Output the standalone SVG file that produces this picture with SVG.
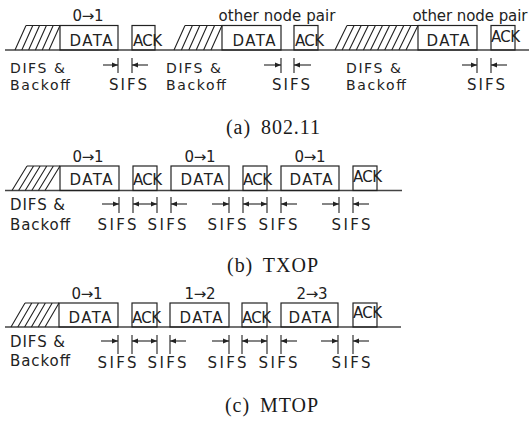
<svg xmlns="http://www.w3.org/2000/svg" width="529" height="422" viewBox="0 0 529 422">
  <style>
    .frame { fill: none; stroke: #222; stroke-width: 1.2; }
    .axis { fill: none; stroke: #444; stroke-width: 1.3; }
    .hatch { fill: none; stroke: #222; stroke-width: 1.1; }
    .tick { fill: none; stroke: #222; stroke-width: 1.1; }
    .arr { fill: none; stroke: #222; stroke-width: 1.1; marker-end: url(#ah); }
    .arr2 { fill: none; stroke: #222; stroke-width: 1.1; marker-start: url(#ah); marker-end: url(#ah); }
    .lbl { font-family: "DejaVu Sans", "Open Sans", sans-serif; font-size: 15px; fill: #222; }
    .sm { font-size: 14px; }
    .mid { text-anchor: middle; }
    .cap { font-family: "Liberation Serif", "DejaVu Serif", serif; font-size: 20px; fill: #1a1a1a; }
  </style>
  <defs>
    <marker id="ah" viewBox="0 0 6 6" refX="6" refY="3" markerWidth="6" markerHeight="6" orient="auto-start-reverse" markerUnits="userSpaceOnUse">
      <path d="M0,0.6 L6,3 L0,5.4 Z" fill="#222"/>
    </marker>
  </defs>

  <!-- ===== (a) 802.11 ===== -->
  <g id="row-a">
    <path class="axis" d="M5,50 H529"/>
    <g id="a-backoff1">
      <path class="hatch" d="M26,25.5 H60 M15,50 L26,25.5 M21.8,50 L32.8,25.5 M28.6,50 L39.6,25.5 M35.4,50 L46.4,25.5 M42.2,50 L53.2,25.5 M49,50 L60,25.5"/>
      <text class="lbl sm" x="10" y="73" textLength="55">DIFS &amp;</text>
      <text class="lbl sm" x="10" y="90" textLength="60">Backoff</text>
    </g>
    <g id="a-data1">
      <rect class="frame" x="60" y="25.5" width="58" height="24.5"/>
      <text class="lbl mid" x="88" y="21" textLength="31">0→1</text>
      <text class="lbl mid" x="91" y="46" textLength="43">DATA</text>
    </g>
    <g id="a-ack1">
      <rect class="frame" x="132" y="25.5" width="23" height="24.5"/>
      <text class="lbl" x="133" y="46" textLength="29">ACK</text>
    </g>
    <g id="a-backoff2">
      <path class="hatch" d="M185,25.5 H222 M174,50 L185,25.5 M181.4,50 L192.4,25.5 M188.8,50 L199.8,25.5 M196.2,50 L207.2,25.5 M203.6,50 L214.6,25.5 M211,50 L222,25.5"/>
      <text class="lbl sm" x="166" y="73" textLength="55">DIFS &amp;</text>
      <text class="lbl sm" x="166" y="90" textLength="60">Backoff</text>
    </g>
    <g id="a-data2">
      <rect class="frame" x="222" y="25.5" width="59" height="24.5"/>
      <text class="lbl mid" x="277" y="21" textLength="117">other node pair</text>
      <text class="lbl mid" x="254" y="46" textLength="43">DATA</text>
    </g>
    <g id="a-ack2">
      <rect class="frame" x="294" y="25.5" width="24" height="24.5"/>
      <text class="lbl" x="295" y="46" textLength="29">ACK</text>
    </g>
    <g id="a-backoff3">
      <path class="hatch" d="M347,25.5 H418 M335,50 L347,25.5 M342.1,50 L354.1,25.5 M349.2,50 L361.2,25.5 M356.3,50 L368.3,25.5 M363.4,50 L375.4,25.5 M370.5,50 L382.5,25.5 M377.6,50 L389.6,25.5 M384.7,50 L396.7,25.5 M391.8,50 L403.8,25.5 M398.9,50 L410.9,25.5 M406,50 L418,25.5"/>
      <text class="lbl sm" x="346" y="73" textLength="55">DIFS &amp;</text>
      <text class="lbl sm" x="346" y="90" textLength="60">Backoff</text>
    </g>
    <g id="a-data3">
      <rect class="frame" x="418" y="25.5" width="59" height="24.5"/>
      <text class="lbl mid" x="470" y="21" textLength="115">other node pair</text>
      <text class="lbl mid" x="448" y="46" textLength="43">DATA</text>
    </g>
    <g id="a-ack3">
      <rect class="frame" x="491" y="25.5" width="24" height="24.5"/>
      <text class="lbl" x="491" y="42" textLength="29">ACK</text>
    </g>
  </g>

  <!-- ===== (b) TXOP ===== -->
  <g id="row-b">
    <path class="axis" d="M5,190.5 H402"/>
    <g id="b-backoff">
      <path class="hatch" d="M27,166 H60 M12,190.5 L27,166 M18.6,190.5 L33.6,166 M25.2,190.5 L40.2,166 M31.8,190.5 L46.8,166 M38.4,190.5 L53.4,166 M45,190.5 L60,166"/>
      <text class="lbl" x="10" y="210" textLength="55">DIFS &amp;</text>
      <text class="lbl" x="10" y="230" textLength="60">Backoff</text>
    </g>
    <g id="b-data1">
      <rect class="frame" x="60" y="166" width="59" height="24.5"/>
      <text class="lbl mid" x="88" y="162" textLength="31">0→1</text>
      <text class="lbl mid" x="91" y="185" textLength="43">DATA</text>
    </g>
    <g id="b-ack1">
      <rect class="frame" x="133" y="166" width="24" height="24.5"/>
      <text class="lbl" x="133" y="185" textLength="29">ACK</text>
    </g>
    <g id="b-data2">
      <rect class="frame" x="171" y="166" width="58" height="24.5"/>
      <text class="lbl mid" x="200" y="162" textLength="31">0→1</text>
      <text class="lbl mid" x="202" y="185" textLength="43">DATA</text>
    </g>
    <g id="b-ack2">
      <rect class="frame" x="243" y="166" width="24" height="24.5"/>
      <text class="lbl" x="243" y="185" textLength="29">ACK</text>
    </g>
    <g id="b-data3">
      <rect class="frame" x="281" y="166" width="58" height="24.5"/>
      <text class="lbl mid" x="310" y="162" textLength="31">0→1</text>
      <text class="lbl mid" x="311" y="185" textLength="43">DATA</text>
    </g>
    <g id="b-ack3">
      <rect class="frame" x="353" y="166" width="24" height="24.5"/>
      <text class="lbl" x="353" y="182" textLength="29">ACK</text>
    </g>
    <text class="lbl mid" x="117" y="230" textLength="39">SIFS</text>
    <text class="lbl mid" x="167" y="230" textLength="39">SIFS</text>
    <text class="lbl mid" x="227" y="230" textLength="39">SIFS</text>
    <text class="lbl mid" x="278" y="230" textLength="39">SIFS</text>
    <text class="lbl mid" x="351" y="230" textLength="39">SIFS</text>
  </g>

  <!-- ===== (c) MTOP ===== -->
  <g id="row-c">
    <path class="axis" d="M5,327 H401"/>
    <g id="c-backoff">
      <path class="hatch" d="M25,303 H59 M11,327 L25,303 M17.8,327 L31.8,303 M24.6,327 L38.6,303 M31.4,327 L45.4,303 M38.2,327 L52.2,303 M45,327 L59,303"/>
      <text class="lbl" x="10" y="347" textLength="55">DIFS &amp;</text>
      <text class="lbl" x="10" y="366" textLength="60">Backoff</text>
    </g>
    <g id="c-data1">
      <rect class="frame" x="59" y="303" width="59" height="24"/>
      <text class="lbl mid" x="87" y="299" textLength="31">0→1</text>
      <text class="lbl mid" x="90" y="323" textLength="43">DATA</text>
    </g>
    <g id="c-ack1">
      <rect class="frame" x="132" y="303" width="25" height="24"/>
      <text class="lbl" x="132" y="323" textLength="29">ACK</text>
    </g>
    <g id="c-data2">
      <rect class="frame" x="170" y="303" width="59" height="24"/>
      <text class="lbl mid" x="200" y="299" textLength="31">1→2</text>
      <text class="lbl mid" x="201" y="323" textLength="43">DATA</text>
    </g>
    <g id="c-ack2">
      <rect class="frame" x="242" y="303" width="25" height="24"/>
      <text class="lbl" x="242" y="323" textLength="29">ACK</text>
    </g>
    <g id="c-data3">
      <rect class="frame" x="281" y="303" width="57" height="24"/>
      <text class="lbl mid" x="312" y="299" textLength="31">2→3</text>
      <text class="lbl mid" x="310" y="323" textLength="43">DATA</text>
    </g>
    <g id="c-ack3">
      <rect class="frame" x="353" y="303" width="24" height="24"/>
      <text class="lbl" x="353" y="318" textLength="29">ACK</text>
    </g>
    <text class="lbl mid" x="117" y="368" textLength="39">SIFS</text>
    <text class="lbl mid" x="167" y="368" textLength="39">SIFS</text>
    <text class="lbl mid" x="227" y="368" textLength="39">SIFS</text>
    <text class="lbl mid" x="278" y="368" textLength="39">SIFS</text>
    <text class="lbl mid" x="351" y="368" textLength="39">SIFS</text>
  </g>

  <!-- SIFS labels for row (a) -->
  <g id="sifs-a">
    <text class="lbl mid" x="128" y="90" textLength="38">SIFS</text>
    <text class="lbl mid" x="291" y="90" textLength="38">SIFS</text>
    <text class="lbl mid" x="486" y="90" textLength="38">SIFS</text>
  </g>

  <!-- connectors: SIFS interval ticks and arrows -->
  <g id="connectors">
    <path class="tick" d="M118,58 V73 M132,58 V73 M281,58 V73 M294,58 V73 M477,58 V73 M491,58 V73"/>
    <path class="arr" d="M103,65 H118"/>
    <path class="arr" d="M148,65 H132"/>
    <path class="arr" d="M264,65 H281"/>
    <path class="arr" d="M311,65 H294"/>
    <path class="arr" d="M462,65 H477"/>
    <path class="arr" d="M507,65 H491"/>

    <path class="tick" d="M119,197 V213 M133,197 V213 M157,197 V213 M171,197 V213 M229,197 V213 M243,197 V213 M267,197 V213 M281,197 V213 M339,197 V213 M353,197 V213"/>
    <path class="arr" d="M102,204 H119"/>
    <path class="arr2" d="M133,204 H157"/>
    <path class="arr" d="M187,204 H171"/>
    <path class="arr" d="M212,204 H229"/>
    <path class="arr2" d="M243,204 H267"/>
    <path class="arr" d="M297,204 H281"/>
    <path class="arr" d="M322,204 H339"/>
    <path class="arr" d="M369,204 H353"/>

    <path class="tick" d="M118,335 V354 M132,335 V354 M157,335 V354 M170,335 V354 M229,335 V354 M242,335 V354 M267,335 V354 M281,335 V354 M338,335 V354 M353,335 V354"/>
    <path class="arr" d="M101,341 H118"/>
    <path class="arr2" d="M132,341 H157"/>
    <path class="arr" d="M186,341 H170"/>
    <path class="arr" d="M212,341 H229"/>
    <path class="arr2" d="M242,341 H267"/>
    <path class="arr" d="M297,341 H281"/>
    <path class="arr" d="M321,341 H338"/>
    <path class="arr" d="M369,341 H353"/>
  </g>

  <!-- captions -->
  <text class="cap" x="226" y="134" textLength="94" word-spacing="4">(a) 802.11</text>
  <text class="cap" x="227" y="272" textLength="91" word-spacing="4">(b) TXOP</text>
  <text class="cap" x="225" y="412" textLength="93" word-spacing="4">(c) MTOP</text>
</svg>
